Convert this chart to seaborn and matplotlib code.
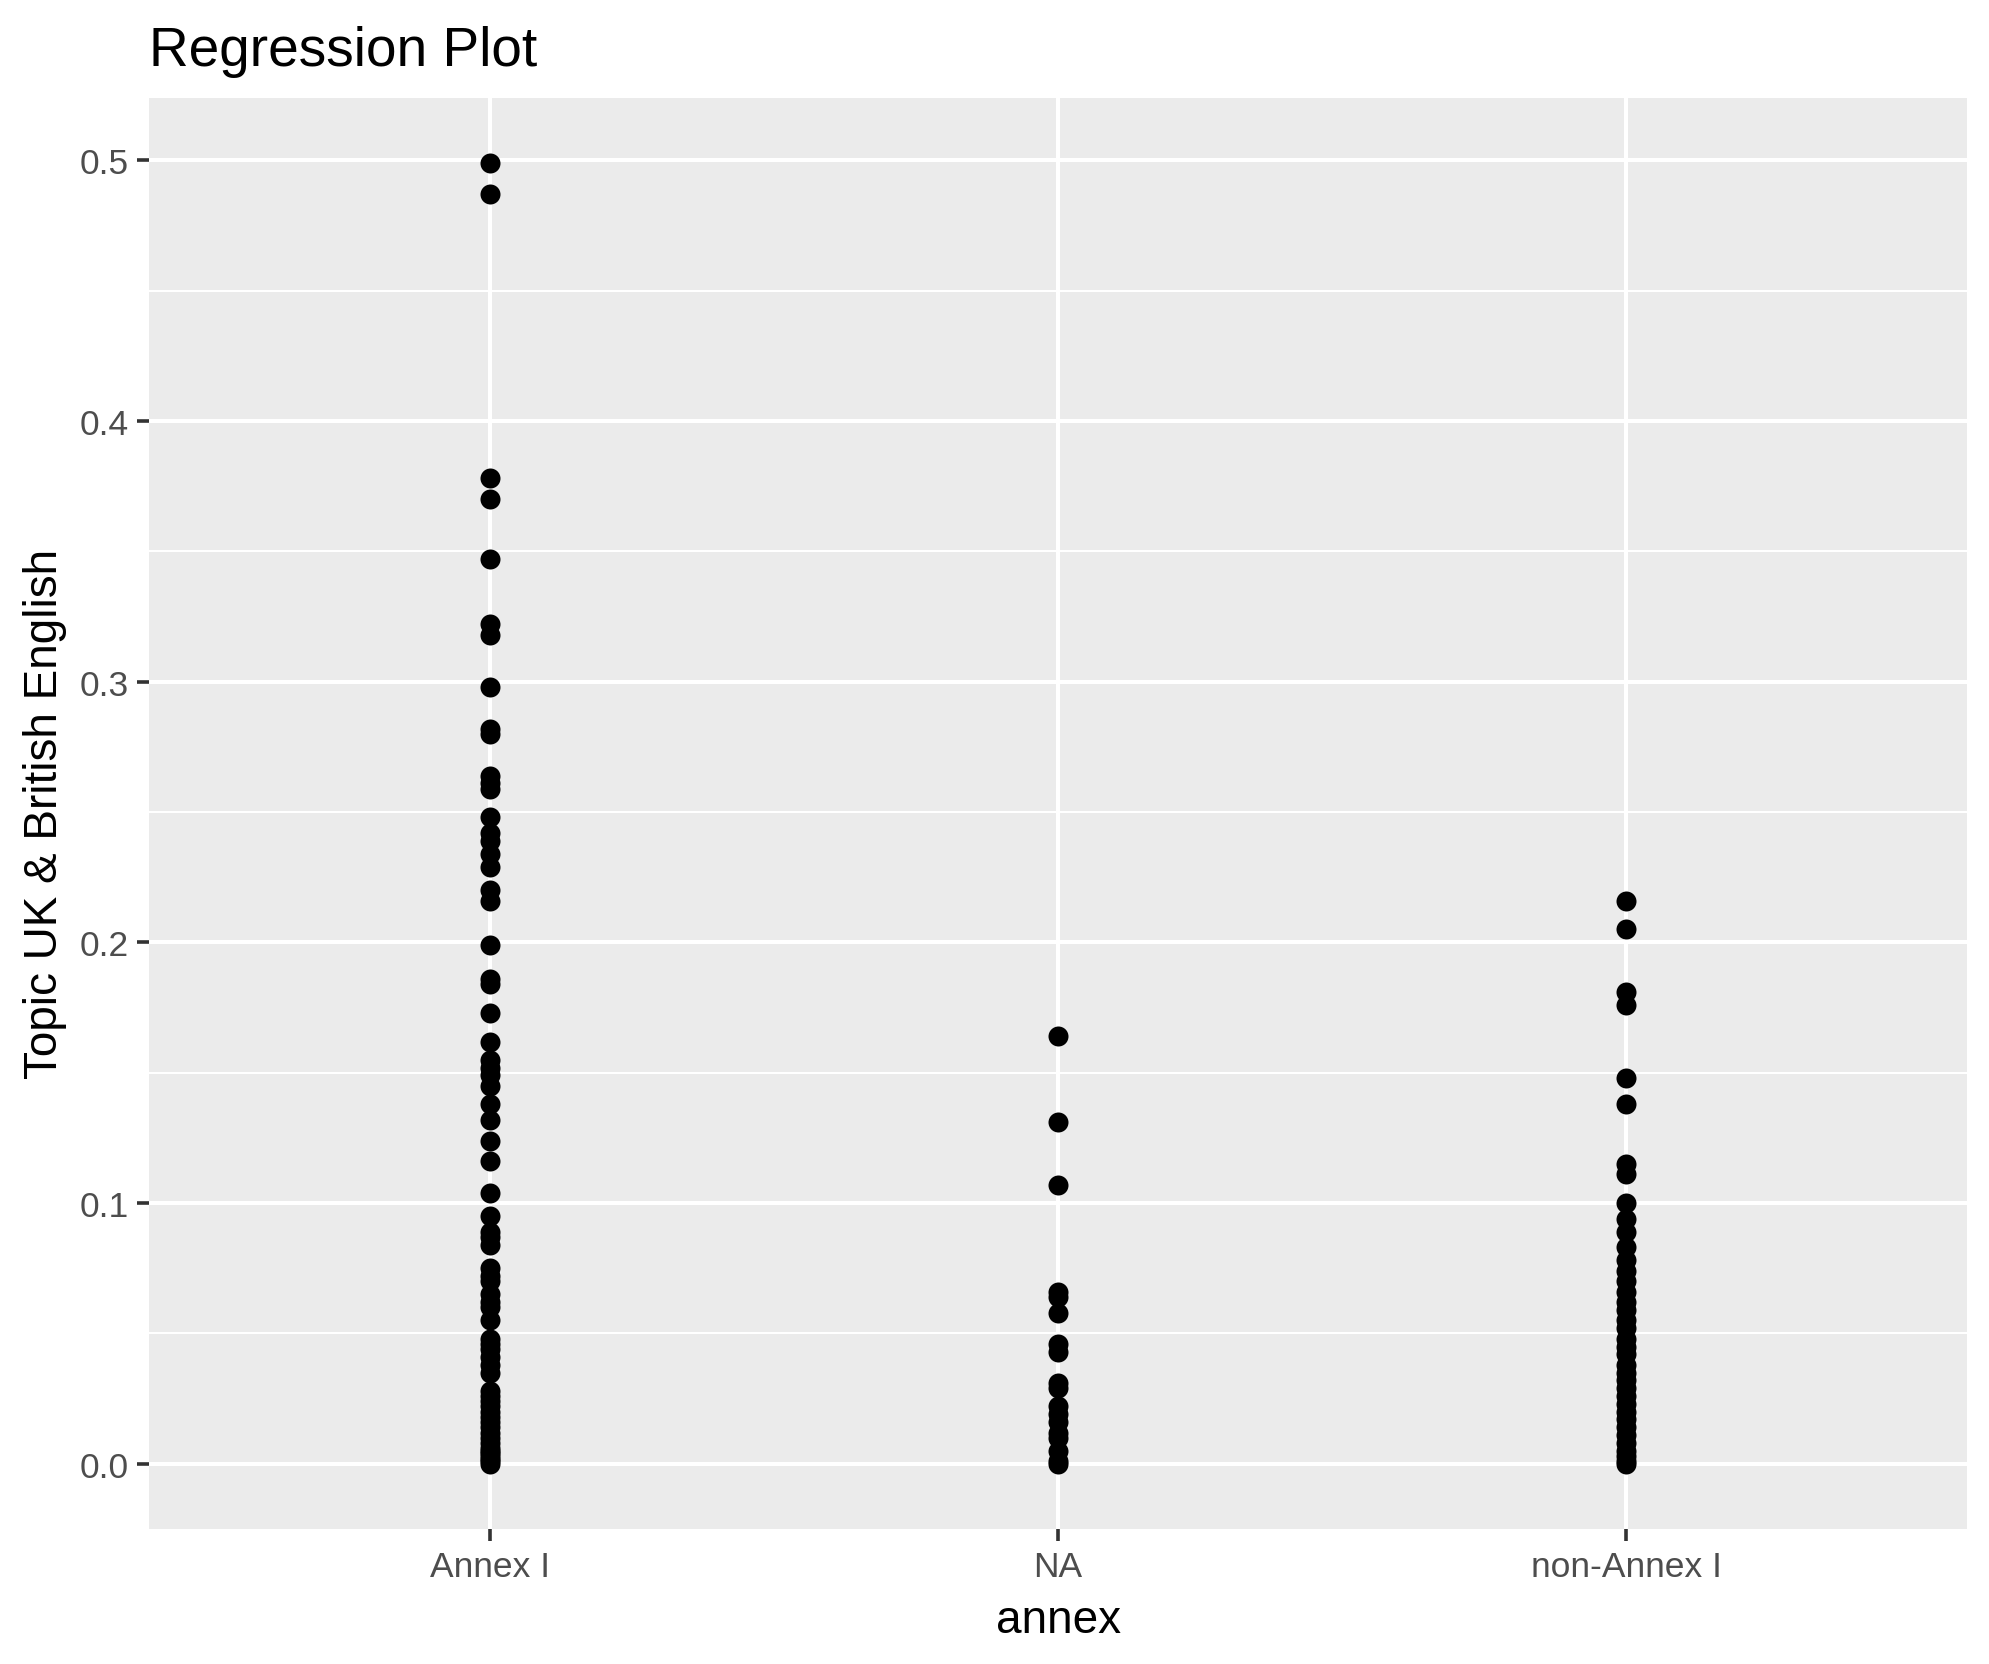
import pandas as pd
import matplotlib.pyplot as plt
import seaborn as sns

# ggplot-like look
sns.set_theme(style="darkgrid")
plt.rcParams["font.family"] = ["Liberation Sans", "DejaVu Sans"]

# -----------------------------------------------------------------------------
# Data (topic share per document, grouped by annex)
# -----------------------------------------------------------------------------
categories = ["Annex I", "NA", "non-Annex I"]

annex_i = [0.499, 0.487, 0.378, 0.370, 0.347, 0.322, 0.318, 0.298, 0.282, 0.280,
           0.264, 0.261, 0.259, 0.248, 0.242, 0.239, 0.234, 0.229, 0.220, 0.216,
           0.199, 0.186, 0.184, 0.173, 0.162, 0.155, 0.152, 0.149, 0.145, 0.138,
           0.132, 0.124, 0.116, 0.104, 0.095, 0.089, 0.087, 0.084, 0.075, 0.072,
           0.070, 0.065, 0.062, 0.060, 0.055, 0.048, 0.046, 0.044, 0.041, 0.038,
           0.035, 0.028, 0.026, 0.024, 0.022, 0.020, 0.018, 0.016, 0.014, 0.012,
           0.010, 0.008, 0.006, 0.005, 0.004, 0.003, 0.002, 0.001, 0.000]

na_vals = [0.164, 0.131, 0.107, 0.066, 0.064, 0.058, 0.046, 0.043, 0.031, 0.029,
           0.022, 0.019, 0.016, 0.012, 0.010, 0.005, 0.001, 0.000]

non_annex_i = [0.216, 0.205, 0.181, 0.176, 0.148, 0.138, 0.115, 0.111, 0.100, 0.094,
               0.089, 0.083, 0.078, 0.074, 0.070, 0.066, 0.062, 0.059, 0.055, 0.052,
               0.048, 0.045, 0.042, 0.038, 0.035, 0.032, 0.029, 0.026, 0.023, 0.020,
               0.017, 0.014, 0.011, 0.008, 0.005, 0.003, 0.001, 0.000]

y_ticks = [0.0, 0.1, 0.2, 0.3, 0.4, 0.5]

df = pd.DataFrame({
    "annex": [categories[0]] * len(annex_i) + [categories[1]] * len(na_vals)
             + [categories[2]] * len(non_annex_i),
    "topic": annex_i + na_vals + non_annex_i,
})

# -----------------------------------------------------------------------------
# Plot
# -----------------------------------------------------------------------------
fig = plt.figure(figsize=(19.9, 16.65), dpi=100)
ax = fig.add_axes([0.0749, 0.0811, 0.9136, 0.8595])
ax.set_facecolor("#EBEBEB")

sns.stripplot(data=df, x="annex", y="topic", order=categories, jitter=False,
              color="black", size=14.4, linewidth=0, ax=ax, zorder=3)

ax.set_xlim(-0.6, 2.6)
ax.set_ylim(-0.025, 0.524)
ax.set_yticks(y_ticks)
ax.set_yticklabels([f"{t:.1f}" for t in y_ticks])
ax.set_yticks([0.05, 0.15, 0.25, 0.35, 0.45], minor=True)

ax.grid(False)
ax.grid(True, which="major", axis="both", color="white", linewidth=2.9, zorder=0)
ax.grid(True, which="minor", axis="y", color="white", linewidth=1.45, zorder=0)
ax.set_axisbelow(True)
for s in ax.spines.values():
    s.set_visible(False)

ax.tick_params(axis="both", which="major", length=8.3, width=2.6, color="#333333",
               labelsize=25.5, labelcolor="#4D4D4D", pad=6.5, bottom=True, left=True)
ax.tick_params(axis="y", which="minor", length=0)

ax.set_xlabel("annex", fontsize=33, color="black", labelpad=11)
ax.set_ylabel("Topic UK & British English", fontsize=33, color="black", labelpad=9)
ax.set_title("Regression Plot", loc="left", fontsize=39.6, color="black", pad=24)

plt.savefig("out.png", dpi=100)
